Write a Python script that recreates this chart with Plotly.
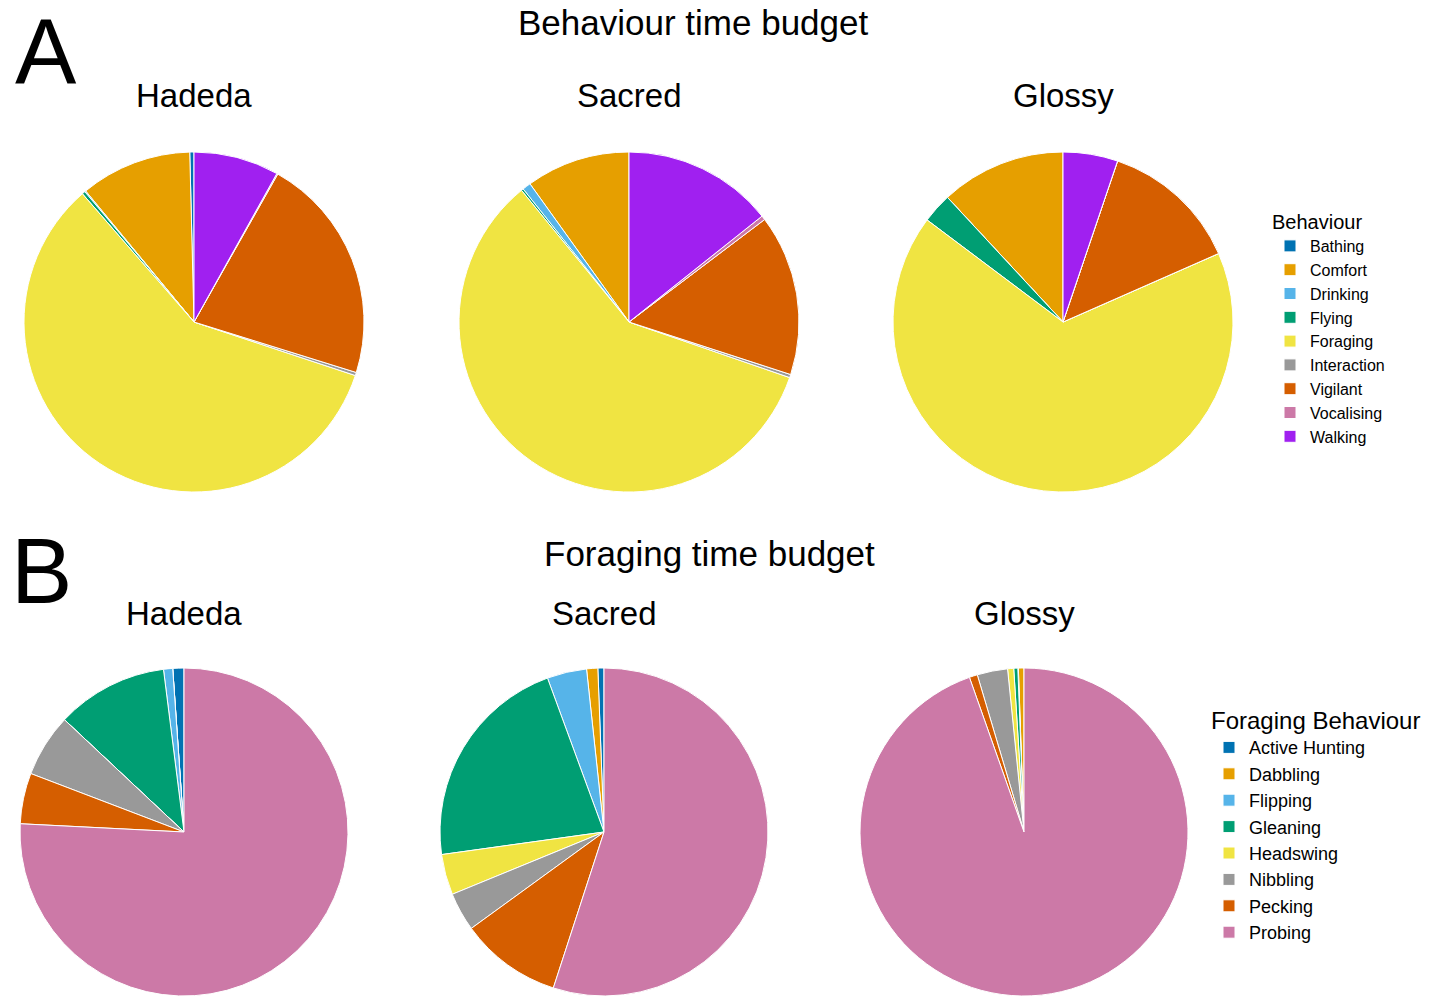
import plotly.graph_objects as go

W, H = 1432, 998
FONT = "Liberation Sans, Arial, sans-serif"

# ---- data ---------------------------------------------------------------
species = ["Hadeda", "Sacred", "Glossy"]

behaviours = ["Bathing", "Comfort", "Drinking", "Flying", "Foraging",
              "Interaction", "Vigilant", "Vocalising", "Walking"]
behaviour_pct = {
    "Hadeda": [0.4, 10.6, 0.1, 0.3, 58.5, 0.3, 21.6, 0.1, 8.1],
    "Sacred": [0.0, 9.9, 0.8, 0.2, 58.8, 0.3, 15.3, 0.4, 14.3],
    "Glossy": [0.0, 11.9, 0.0, 2.85, 66.85, 0.0, 13.2, 0.0, 5.2],
}

foraging = ["Active Hunting", "Dabbling", "Flipping", "Gleaning",
            "Headswing", "Nibbling", "Pecking", "Probing"]
foraging_pct = {
    "Hadeda": [1.1, 0.0, 0.9, 11.0, 0.0, 6.2, 5.0, 75.8],
    "Sacred": [0.6, 1.1, 3.9, 21.6, 4.0, 3.8, 10.0, 55.0],
    "Glossy": [0.0, 0.55, 0.05, 0.4, 0.6, 3.0, 0.8, 94.6],
}

behaviour_colors = ["#0072B2", "#E69F00", "#56B4E9", "#009E73", "#F0E442",
                    "#999999", "#D55E00", "#CC79A7", "#A020F0"]
foraging_colors = ["#0072B2", "#E69F00", "#56B4E9", "#009E73", "#F0E442",
                   "#999999", "#D55E00", "#CC79A7"]

# pie centres / radius in pixels
row_a = {"cy": 322, "r": 170, "cx": [194, 629, 1063]}
row_b = {"cy": 832, "r": 164, "cx": [184, 604, 1024]}


def domain(cx, cy, r):
    return dict(x=[(cx - r) / W, (cx + r) / W],
                y=[1 - (cy + r) / H, 1 - (cy - r) / H])


def start_at_top(values):
    # plotly places the far edge of the first counterclockwise slice at
    # `rotation`; shift back so the first slice begins at 12 o'clock
    return -360.0 * values[0] / sum(values)


fig = go.Figure()

for i, sp in enumerate(species):
    vals = behaviour_pct[sp]
    fig.add_trace(go.Pie(
        labels=behaviours, values=vals, name=sp,
        marker=dict(colors=behaviour_colors, line=dict(color="white", width=1)),
        sort=False, direction="counterclockwise", rotation=start_at_top(vals),
        textinfo="none", hoverinfo="label+percent",
        domain=domain(row_a["cx"][i], row_a["cy"], row_a["r"]),
        legend="legend",
    ))

for i, sp in enumerate(species):
    vals = foraging_pct[sp]
    fig.add_trace(go.Pie(
        labels=foraging, values=vals, name=sp,
        marker=dict(colors=foraging_colors, line=dict(color="white", width=1)),
        sort=False, direction="counterclockwise", rotation=start_at_top(vals),
        textinfo="none", hoverinfo="label+percent",
        domain=domain(row_b["cx"][i], row_b["cy"], row_b["r"]),
        legend="legend2",
    ))

annotations = []


def label(text, x, y, size):
    annotations.append(dict(
        text=text, x=x / W, y=1 - y / H, xref="paper", yref="paper",
        showarrow=False, xanchor="center", yanchor="middle",
        font=dict(family=FONT, size=size, color="black")))


label("A", 46, 52, 92)
label("B", 41, 571, 92)
label("Behaviour time budget", 693, 23, 35)
label("Foraging time budget", 709, 553, 35)
for i, sp in enumerate(species):
    label(sp, row_a["cx"][i], 95, 33)
    label(sp, row_b["cx"][i], 613, 33)

fig.update_layout(
    width=W, height=H,
    margin=dict(l=0, r=0, t=0, b=0),
    paper_bgcolor="white", plot_bgcolor="white",
    font=dict(family=FONT, color="black"),
    annotations=annotations,
    legend=dict(
        title=dict(text="Behaviour", font=dict(size=20)),
        font=dict(size=16), x=1270 / W, y=1 - 203 / H,
        xanchor="left", yanchor="top", traceorder="normal",
    ),
    legend2=dict(
        title=dict(text="Foraging Behaviour", font=dict(size=24)),
        font=dict(size=18), x=1209 / W, y=1 - 698 / H,
        xanchor="left", yanchor="top", traceorder="normal",
    ),
)

fig.write_html("out.html")
